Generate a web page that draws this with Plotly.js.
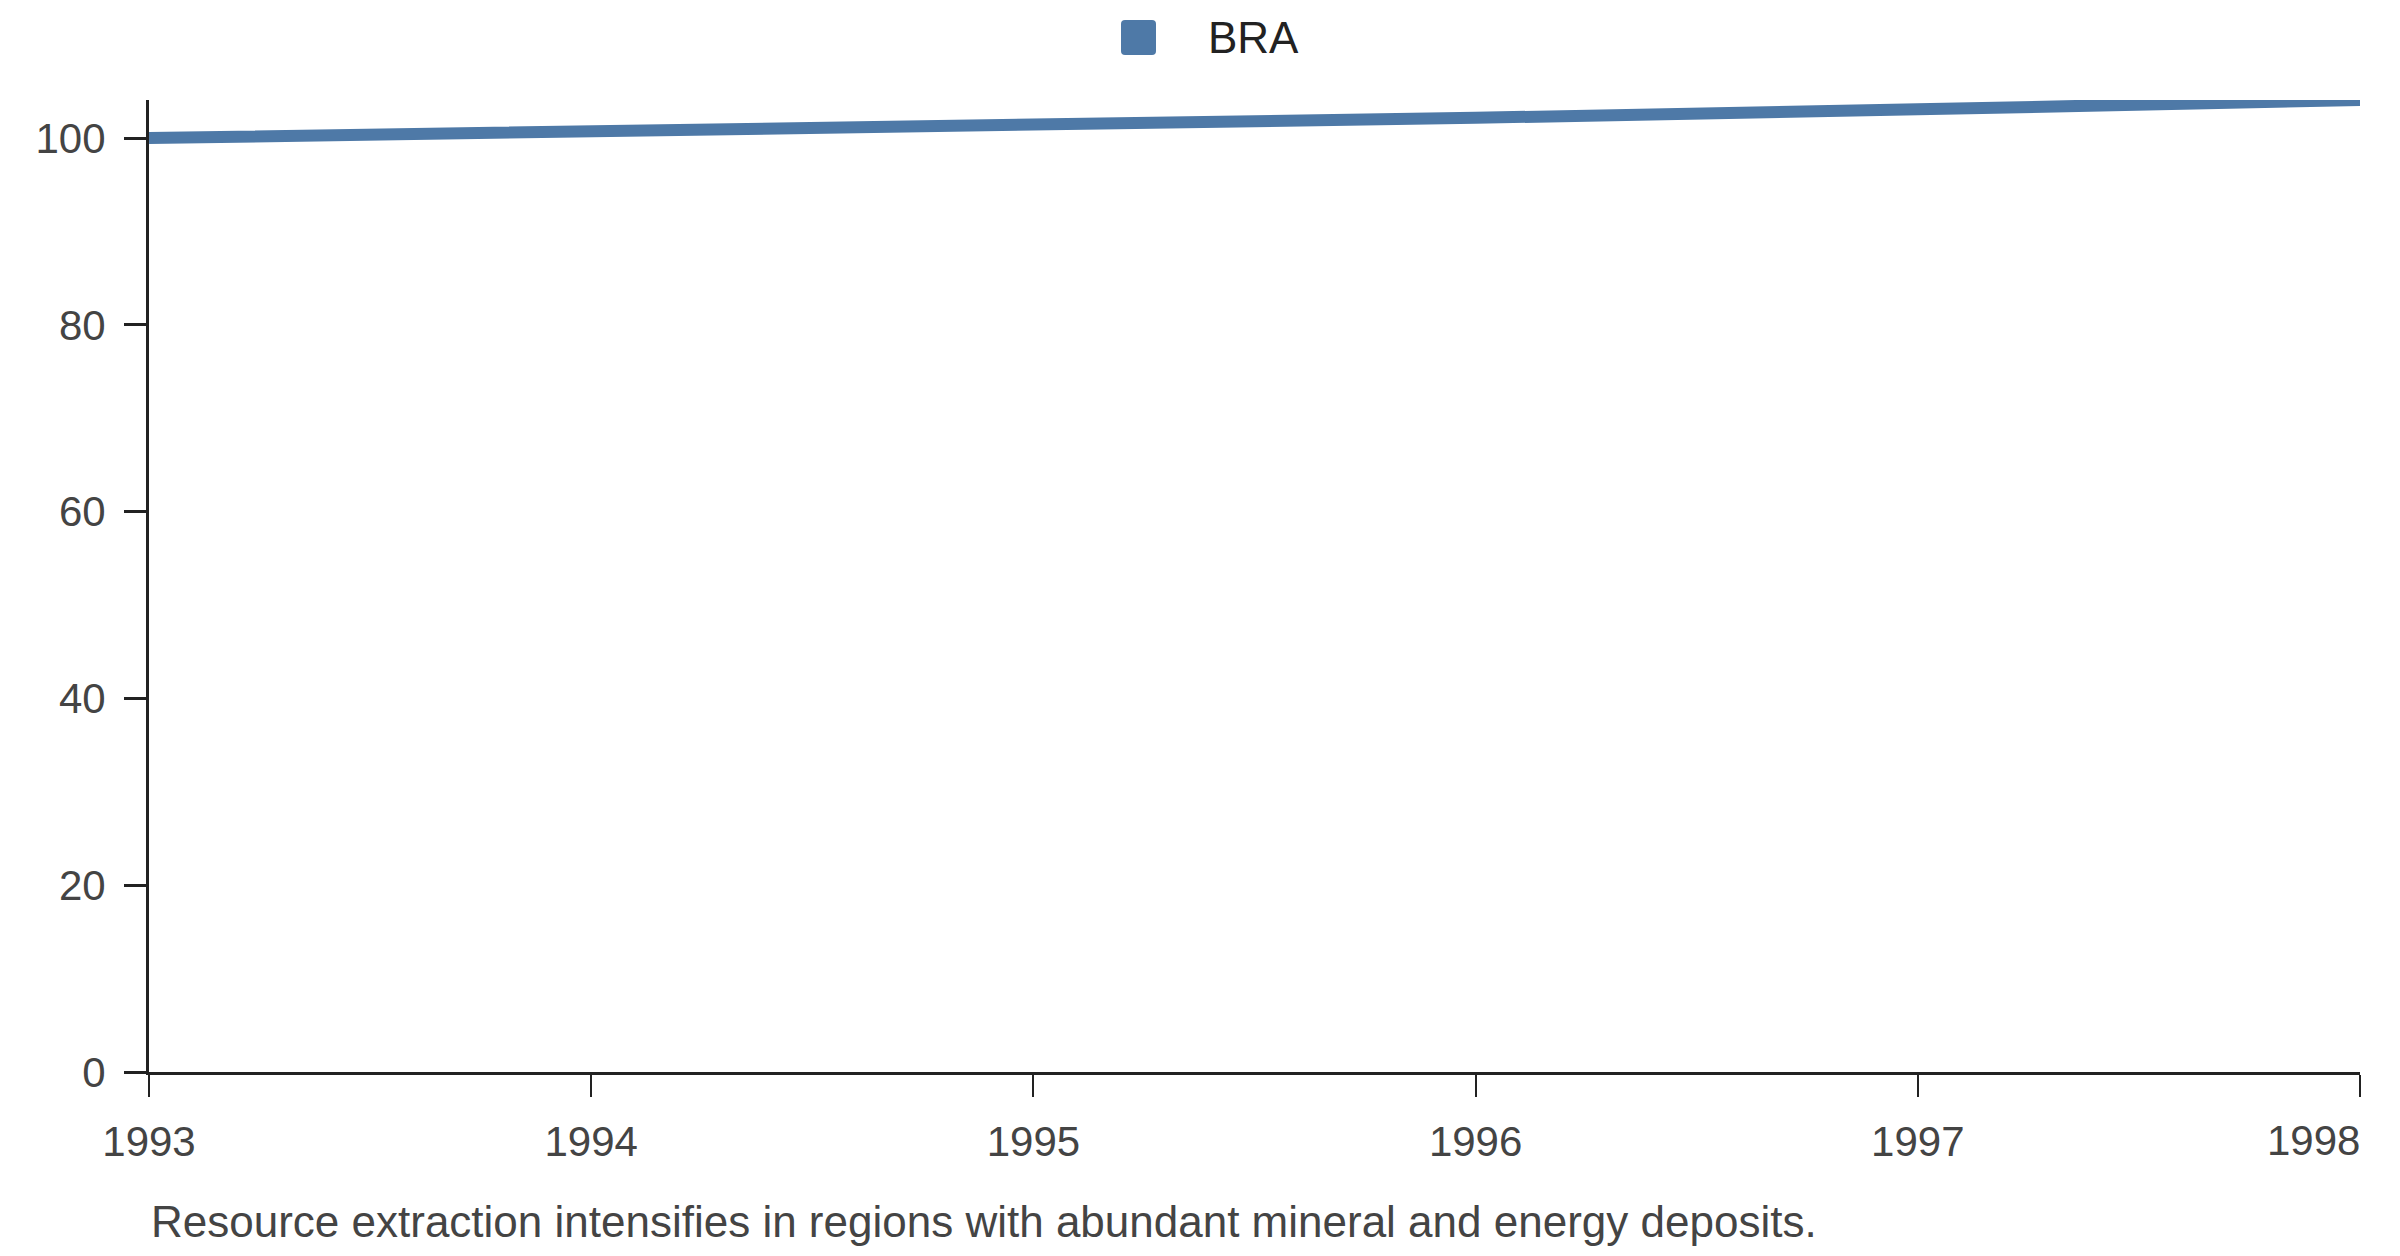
<!DOCTYPE html>
<html>
  <head>
    <meta charset="utf-8" />
    <title>BRA</title>
    <script src="https://cdn.plot.ly/plotly-3.0.1.min.js"></script>
    <style>
      body {
        margin: 0;
        padding: 0;
        background-color: white;
        overflow: hidden;
      }
      #graphDiv {
        width: 2400px;
        height: 1256px;
      }
    </style>
  </head>
  <body>
    <div id="graphDiv"></div>
    <script>
      const years = [1993, 1994, 1995, 1996, 1997, 1998];
      const bra_values = [100, 100.62, 101.37, 102.16, 103.07, 104.07];
      const y_ticks = [0, 20, 40, 60, 80, 100];
      const series_name = "BRA";
      const caption = "Resource extraction intensifies in regions with abundant mineral and energy deposits.";

      const line_color = "#4e79a7";
      const axis_color = "#222222";
      const label_color = "#444444";
      const font_family = "Liberation Sans, Arial, sans-serif";
      const tick_size = 42;

      const plot_left = 149;
      const plot_right = 2360;
      const plot_top = 100;
      const plot_bottom = 1072;
      const plot_w = plot_right - plot_left;
      const plot_h = plot_bottom - plot_top;

      // paper coords from pixel positions
      const px = (x) => (x - plot_left) / plot_w;
      const py = (y) => (plot_bottom - y) / plot_h;

      const traces = [
        {
          x: years,
          y: bra_values,
          mode: "lines",
          name: series_name,
          line: { color: line_color, width: 12 },
          hoverinfo: "x+y",
          showlegend: false,
        },
      ];

      const r = 17.5;
      const c = 4;
      const rounded_square =
        `M ${-r + c},${-r} L ${r - c},${-r} Q ${r},${-r} ${r},${-r + c} ` +
        `L ${r},${r - c} Q ${r},${r} ${r - c},${r} L ${-r + c},${r} ` +
        `Q ${-r},${r} ${-r},${r - c} L ${-r},${-r + c} Q ${-r},${-r} ${-r + c},${-r} Z`;

      // last year label would overflow the page, so it is drawn right-aligned to its tick
      const last_year = years[years.length - 1];
      const x_ticktext = years.map((y) => (y === last_year ? "" : String(y)));

      const layout = {
        width: 2400,
        height: 1256,
        showlegend: false,
        plot_bgcolor: "white",
        paper_bgcolor: "white",
        margin: {
          l: plot_left,
          r: 2400 - plot_right,
          t: plot_top,
          b: 1256 - plot_bottom,
        },
        font: { family: font_family, color: label_color, size: tick_size },
        xaxis: {
          range: [years[0], last_year],
          tickvals: years,
          ticktext: x_ticktext,
          showgrid: false,
          zeroline: false,
          showline: true,
          linecolor: axis_color,
          linewidth: 3,
          ticks: "outside",
          ticklen: 22,
          tickwidth: 2,
          tickcolor: axis_color,
          ticklabelstandoff: 9,
          tickfont: { family: font_family, size: tick_size, color: label_color },
        },
        yaxis: {
          range: [0, 104.07],
          tickvals: y_ticks,
          showgrid: false,
          zeroline: false,
          showline: true,
          linecolor: axis_color,
          linewidth: 3,
          ticks: "outside",
          ticklen: 22,
          tickwidth: 3,
          tickcolor: axis_color,
          ticklabelstandoff: 10,
          tickfont: { family: font_family, size: tick_size, color: label_color },
        },
        shapes: [
          {
            type: "path",
            xref: "paper",
            yref: "paper",
            xsizemode: "pixel",
            ysizemode: "pixel",
            xanchor: px(1138.5),
            yanchor: py(37.5),
            path: rounded_square,
            fillcolor: line_color,
            line: { width: 0 },
          },
        ],
        annotations: [
          {
            xref: "paper",
            yref: "paper",
            x: px(1206),
            y: py(37.5),
            xanchor: "left",
            yanchor: "middle",
            text: series_name,
            showarrow: false,
            font: { family: font_family, size: 44, color: "#222222" },
          },
          {
            xref: "x",
            yref: "paper",
            x: last_year,
            y: py(1140),
            xanchor: "right",
            yanchor: "middle",
            xshift: 2,
            text: String(last_year),
            showarrow: false,
            font: { family: font_family, size: tick_size, color: label_color },
          },
          {
            xref: "paper",
            yref: "paper",
            x: 0,
            y: py(1221),
            xanchor: "left",
            yanchor: "middle",
            text: caption,
            showarrow: false,
            font: { family: font_family, size: 44, color: label_color },
          },
        ],
      };

      Plotly.newPlot("graphDiv", traces, layout, { displayModeBar: false, responsive: false });
    </script>
  </body>
</html>
